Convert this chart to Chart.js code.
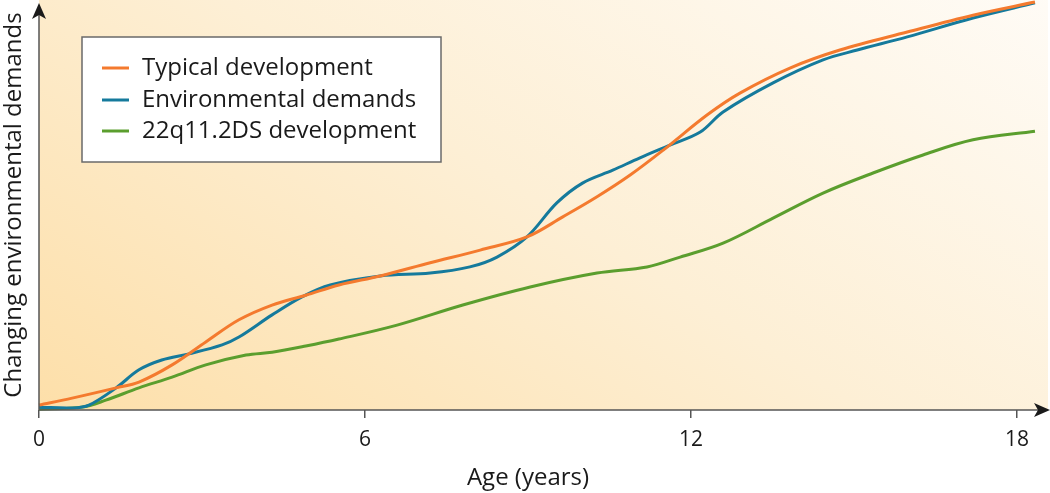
<!DOCTYPE html>
<html>
<head>
<meta charset="utf-8">
<script src="https://cdn.jsdelivr.net/npm/chart.js@4"></script>
<style>
html,body{margin:0;padding:0;background:#fff;}
#wrap{width:1050px;height:493px;}
</style>
</head>
<body>
<div id="wrap"><canvas id="c" width="1050" height="493"></canvas></div>
<script>
// ---- data (age in years, demand level 0-100) ----
const typicalAge = [0, 0.61, 1.42, 1.84, 2.45, 3.07, 3.68, 4.29, 4.91, 5.52, 6.28, 7.2, 8.12, 8.98, 9.64, 10.27, 10.88, 11.49, 12.3, 12.9, 13.82, 14.74, 15.98, 17.19, 18.33];
const typicalVal = [1.2, 2.9, 5.4, 6.8, 11.0, 16.6, 22.0, 25.6, 28.0, 30.5, 32.7, 35.9, 39.0, 42.2, 47.1, 52.0, 57.3, 63.4, 72.0, 77.3, 83.4, 87.8, 92.2, 96.3, 99.5];

const envAge = [0, 0.61, 0.92, 1.42, 1.84, 2.26, 2.76, 3.37, 3.68, 4.29, 4.84, 5.36, 6.28, 7.2, 7.93, 8.43, 8.98, 9.53, 10.01, 10.56, 11.06, 11.61, 12.17, 12.59, 13.51, 14.43, 15.06, 15.98, 17.19, 18.33];
const envVal = [0.7, 0.5, 1.2, 5.4, 9.8, 12.2, 13.7, 15.9, 17.8, 23.2, 27.6, 30.5, 32.7, 33.4, 34.9, 37.3, 42.2, 50.5, 55.4, 58.5, 61.5, 64.6, 67.8, 72.7, 79.8, 85.4, 87.8, 91.0, 95.6, 99.3];

const dsAge = [0, 0.79, 1.23, 1.84, 2.45, 3.07, 3.81, 4.29, 4.91, 5.52, 6.59, 7.8, 9.04, 10.27, 11.19, 11.8, 12.59, 13.51, 14.43, 15.35, 16.27, 17.19, 18.33];
const dsVal = [0.2, 0.7, 2.4, 5.4, 8.0, 11.0, 13.4, 14.1, 15.6, 17.3, 20.7, 25.6, 30.0, 33.4, 34.9, 37.3, 40.7, 46.8, 52.9, 57.8, 62.2, 65.9, 68.0];

const xTicks = [0, 6, 12, 18];
const xTitle = 'Age (years)';
const yTitle = 'Changing environmental demands';
const seriesNames = ['Typical development', 'Environmental demands', '22q11.2DS development'];
const seriesColors = ['#f47a2e', '#157a9c', '#5b9e2e'];

const toPts = (xs, ys) => xs.map((x, i) => ({x: x, y: ys[i]}));

const FONT = "'Open Sans', 'DejaVu Sans', sans-serif";
const AXIS = '#555555';
const TEXT = '#1a1a1a';

const decor = {
  id: 'decor',
  beforeDatasetsDraw(chart) {
    const {ctx, chartArea: a} = chart;
    ctx.save();
    const g = ctx.createLinearGradient(a.left, a.bottom, a.left + 531, a.bottom - 832);
    g.addColorStop(0, '#fddfa9');
    g.addColorStop(0.45, '#fdefd5');
    g.addColorStop(1, '#fffefd');
    ctx.fillStyle = g;
    ctx.fillRect(a.left, a.top, 1048 - a.left, a.bottom - a.top);
    ctx.restore();
  },
  afterDatasetsDraw(chart) {
    const {ctx, chartArea: a} = chart;
    ctx.save();
    // axes
    ctx.strokeStyle = AXIS;
    ctx.fillStyle = TEXT;
    ctx.lineWidth = 1.5;
    ctx.beginPath();
    ctx.moveTo(a.left, a.bottom);
    ctx.lineTo(a.left, 14);
    ctx.moveTo(a.left, a.bottom);
    ctx.lineTo(1040, a.bottom);
    ctx.stroke();
    // arrowheads
    ctx.beginPath();
    ctx.moveTo(a.left, 3);
    ctx.lineTo(a.left - 7, 19);
    ctx.lineTo(a.left, 15);
    ctx.lineTo(a.left + 7, 19);
    ctx.closePath();
    ctx.fill();
    ctx.beginPath();
    ctx.moveTo(1050, a.bottom);
    ctx.lineTo(1034, a.bottom - 7);
    ctx.lineTo(1038, a.bottom);
    ctx.lineTo(1034, a.bottom + 7);
    ctx.closePath();
    ctx.fill();
    // x axis title
    ctx.font = '24px ' + FONT;
    ctx.textAlign = 'center';
    ctx.textBaseline = 'middle';
    ctx.fillText(xTitle, 528, 478);
    // legend box
    const bx = 82, by = 37, bw = 359, bh = 125;
    ctx.fillStyle = '#ffffff';
    ctx.fillRect(bx, by, bw, bh);
    ctx.strokeStyle = '#6a6a6a';
    ctx.lineWidth = 1.5;
    ctx.strokeRect(bx, by, bw, bh);
    ctx.textAlign = 'left';
    const rows = [68, 100, 131];
    seriesNames.forEach((name, i) => {
      ctx.strokeStyle = seriesColors[i];
      ctx.lineWidth = 3;
      ctx.beginPath();
      ctx.moveTo(102, rows[i]);
      ctx.lineTo(129, rows[i]);
      ctx.stroke();
      ctx.fillStyle = TEXT;
      ctx.fillText(name, 142, rows[i]);
    });
    ctx.restore();
  }
};

new Chart(document.getElementById('c'), {
  type: 'line',
  data: {
    datasets: [
      {label: seriesNames[0], data: toPts(typicalAge, typicalVal), borderColor: seriesColors[0]},
      {label: seriesNames[1], data: toPts(envAge, envVal), borderColor: seriesColors[1]},
      {label: seriesNames[2], data: toPts(dsAge, dsVal), borderColor: seriesColors[2]}
    ].map(d => Object.assign(d, {borderWidth: 3, pointRadius: 0, tension: 0.35, fill: false, clip: false}))
  },
  options: {
    responsive: false,
    animation: false,
    events: [],
    layout: {padding: {left: 0, right: 2, top: 0, bottom: 0}},
    plugins: {legend: {display: false}, tooltip: {enabled: false}},
    scales: {
      x: {
        type: 'linear',
        min: 0,
        max: 18.57,
        afterFit(s) { s.height = 83; },
        afterBuildTicks(s) { s.ticks = xTicks.map(v => ({value: v})); },
        border: {display: false},
        grid: {drawOnChartArea: false, drawTicks: true, tickLength: 8, color: AXIS, lineWidth: 1.5},
        ticks: {color: TEXT, font: {family: FONT, size: 21}, padding: 9, maxRotation: 0},
        title: {display: false}
      },
      y: {
        min: 0,
        max: 100,
        afterFit(s) { s.width = 39; },
        border: {display: false},
        grid: {display: false},
        ticks: {display: false},
        title: {display: true, text: yTitle, color: TEXT, font: {family: FONT, size: 24}, padding: {top: 0, bottom: 0}}
      }
    }
  },
  plugins: [decor]
});
</script>
</body>
</html>
